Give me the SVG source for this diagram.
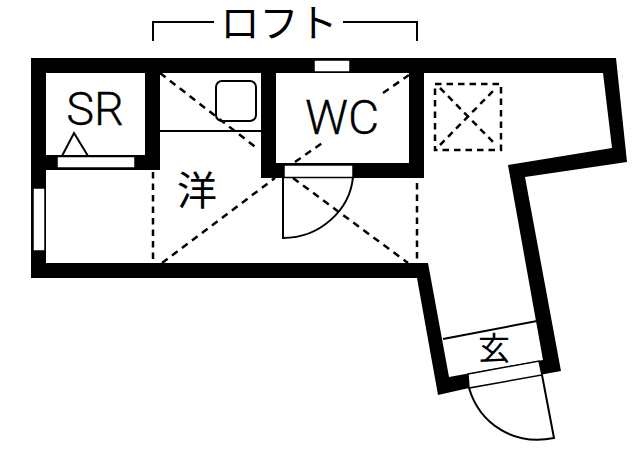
<svg xmlns="http://www.w3.org/2000/svg" width="640" height="457" viewBox="0 0 640 457">
<style>
.w{fill:#fff;stroke:none}
.win{fill:#fff;stroke:#000;stroke-width:1.5}
.t{fill:none;stroke:#000;stroke-width:2}
.d{fill:none;stroke:#000;stroke-width:2.500;stroke-dasharray:7 5.500}
.v{fill:none;stroke:#000;stroke-width:2.500;stroke-dasharray:6.500 5}
.lat{font-family:Roboto,"Liberation Sans",sans-serif;font-weight:300;fill:#000;text-anchor:middle;stroke:#000;stroke-width:.3}
.cjk{font-family:"Noto Sans CJK JP",sans-serif;font-weight:400;fill:#000;text-anchor:middle}
</style>
<rect width="640" height="457" fill="#fff"/>
<g id="walls">
<path d="M31,58H616L627,162L525,177L561,371L469,388L438,395L417,278H31Z" fill="#000"/>
<rect class="w" x="46" y="73" width="99" height="82"/>
<rect class="w" x="276" y="73" width="133" height="90"/>
<path class="w" d="M160,73H261V178H424V73H603L612,148L508,165L543,360L449,377L428,263H46V170H160Z"/>
</g>
<g id="windows">
<rect class="win" x="57" y="156.500" width="78" height="11.500"/>
<rect class="win" x="33" y="188" width="12" height="63"/>
<rect class="win" x="314" y="60" width="36" height="12" stroke="none"/>
<rect class="win" x="284" y="165" width="69" height="12.500"/>
<path class="win" d="M468,374L539,361L542,375L469,388Z"/>
</g>
<g id="fixtures">
<path class="t" d="M160,131H261"/>
<rect class="t" x="216" y="81" width="40" height="40" rx="6"/>
<path class="t" d="M62,156L74,133L88,156"/>
<path class="t" d="M62,156H145"/>
<path class="t" d="M443,339L537,321"/>
</g>
<g id="doors">
<path class="t" d="M283,177V238C320,238 350,210 353,177"/>
<path class="t" d="M542,375L554,438C515,446 480,425 469,388"/>
</g>
<g id="dashed">
<path class="d" d="M160,73L258,149"/>
<path class="d" d="M293,178L408,263"/>
<path class="d" d="M162,263L275,178"/>
<path class="d" d="M295,162L325,141"/>
<path class="d" d="M383,93L409,75"/>
<path class="v" d="M153,172V263"/>
<path class="v" d="M417,183V263"/>
<rect class="v" x="435" y="84" width="66" height="66"/>
<path class="v" d="M440,88L496,145"/>
<path class="v" d="M440,145L496,88"/>
</g>
<g id="loft">
<path class="t" d="M153,41V22H214"/>
<path class="t" d="M343,22H417V41"/>
<text class="cjk" x="279" y="37" font-size="39">ロフト</text>
</g>
<g id="labels">
<text class="lat" x="95" y="125" font-size="47">SR</text>
<text class="lat" x="342" y="134" font-size="48">WC</text>
<text class="cjk" x="197" y="205" font-size="40">洋</text>
<text class="cjk" x="494" y="360" font-size="32">玄</text>
</g>
</svg>
